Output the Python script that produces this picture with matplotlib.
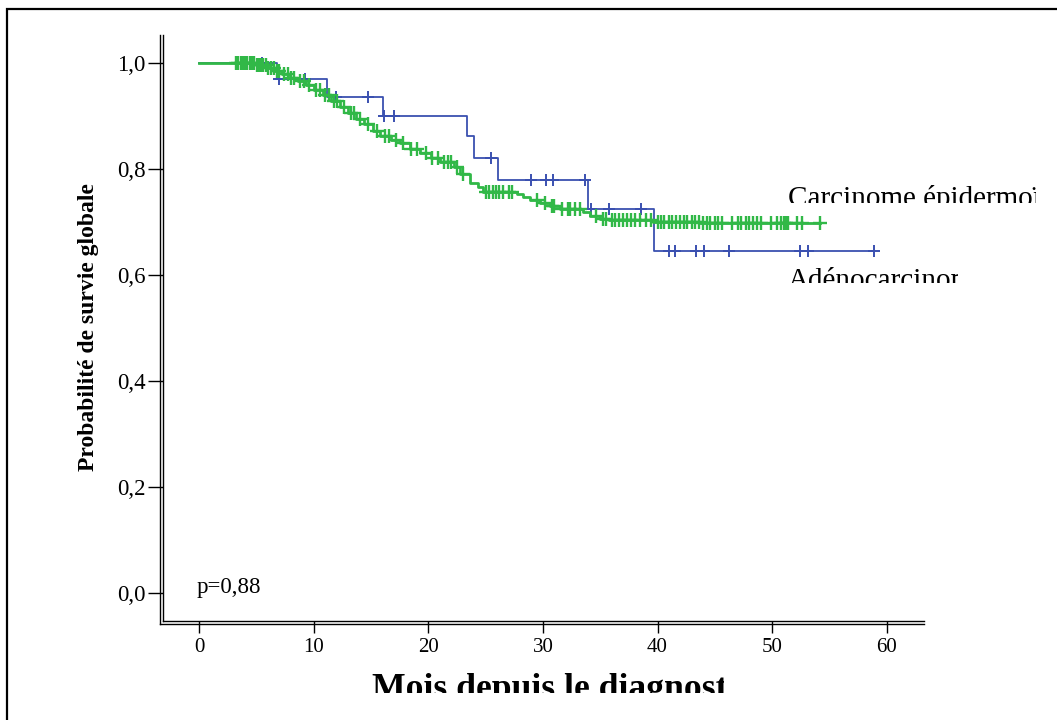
import numpy as np
import matplotlib.pyplot as plt
from matplotlib.lines import Line2D
from matplotlib.patches import Rectangle

# Kaplan-Meier steps (months, survival)
adeno_t = [0, 6.81, 11.17, 16.0, 23.34, 24.0, 26.1, 33.96, 39.7]
adeno_s = [1.0, 0.969, 0.936, 0.900, 0.862, 0.821, 0.779, 0.724, 0.645]
adeno_end = 58.9
adeno_cens = [5.5, 7.0, 9.2, 11.9, 14.7, 16.1, 17.0, 25.5, 29.0, 30.3, 30.9,
              33.7, 34.2, 35.8, 38.6, 41.0, 41.5, 43.4, 44.1, 46.2, 52.4,
              53.1, 58.9]

epid_t = [0, 5.0, 6.0, 6.6, 7.2, 7.9, 8.6, 9.3, 10.0, 10.8, 11.5, 12.3, 13.0,
          13.7, 14.4, 15.2, 15.8, 16.7, 17.5, 18.4, 19.3, 20.2, 21.0, 22.2,
          22.8, 23.6, 24.3, 24.8, 27.7, 28.3, 28.9, 29.7, 30.6, 31.5, 33.5,
          34.1, 35.0, 35.8, 39.6, 43.7]
epid_s = [1.0, 0.995, 0.990, 0.985, 0.978, 0.972, 0.965, 0.958, 0.949, 0.939,
          0.928, 0.917, 0.905, 0.893, 0.884, 0.872, 0.862, 0.855, 0.848,
          0.838, 0.829, 0.821, 0.813, 0.804, 0.790, 0.774, 0.765, 0.757,
          0.752, 0.746, 0.741, 0.735, 0.729, 0.724, 0.719, 0.711, 0.706,
          0.703, 0.700, 0.697]
epid_end = 54.2
epid_cens = [3.2, 3.4, 3.6, 3.8, 4.0, 4.2, 4.4, 4.6, 4.8, 5.0, 5.2, 5.4, 5.6,
             5.8, 6.0, 6.3, 6.5, 6.8, 7.0, 7.4, 7.7, 8.0, 8.3, 8.8, 9.1, 9.6,
             10.2, 10.5, 11.0, 11.3, 11.8, 12.0, 12.6, 13.2, 13.5, 14.0, 14.7,
             15.5, 16.2, 16.6, 17.2, 17.8, 18.5, 19.0, 19.8, 20.3, 20.8, 21.4,
             21.7, 22.0, 22.5, 23.0, 25.0, 25.3, 25.6, 25.9, 26.2, 26.5, 27.0,
             27.3, 29.5, 30.2, 30.8, 31.0, 31.7, 32.2, 32.4, 32.8, 33.2, 34.6,
             35.2, 35.5, 36.0, 36.3, 36.6, 37.0, 37.3, 37.7, 38.0, 38.5, 39.0,
             39.4, 40.0, 40.3, 40.6, 41.0, 41.3, 41.6, 42.0, 42.3, 42.6, 43.0,
             43.3, 43.6, 44.0, 44.3, 44.6, 45.0, 45.3, 45.6, 46.5, 47.0, 47.3,
             47.7, 48.0, 48.3, 48.7, 49.0, 49.9, 50.4, 50.8, 51.0, 51.2, 51.4,
             52.2, 52.6, 54.2]

xticks = [0, 10, 20, 30, 40, 50, 60]
yticks = [0.0, 0.2, 0.4, 0.6, 0.8, 1.0]

blue = '#3a50b0'
green = '#31b847'
serif = ['Liberation Serif', 'DejaVu Serif']


def km_line(t, s, end):
    return list(t) + [end], list(s) + [s[-1]]


def km_at(t, s, times):
    idx = np.searchsorted(np.array(t), np.array(times), side='right') - 1
    return np.array(s)[idx]


W, H = 1057, 720
fig = plt.figure(figsize=(W / 100, H / 100), dpi=100)
ax = fig.add_axes([162.5 / W, 1 - 621 / H, 761.8 / W, 586 / H])
ax.set_xlim(-3.212, 63.29)
ax.set_ylim(-0.0522, 1.0522)

# outer frame (only top and left edges are visible)
fig.patches.append(Rectangle((7 / W, -0.2), 1.2, 1 - 9 / H + 0.2,
                             transform=fig.transFigure, fill=False,
                             lw=1.6, ec='black'))

x, y = km_line(adeno_t, adeno_s, adeno_end)
ax.step(x, y, where='post', color=blue, lw=1.3, zorder=2)
ax.plot(adeno_cens, km_at(adeno_t, adeno_s, adeno_cens), ls='none',
        marker='+', ms=8, mew=1.4, color=blue, zorder=2)

x, y = km_line(epid_t, epid_s, epid_end)
ax.step(x, y, where='post', color=green, lw=2.0, zorder=3)
ax.plot(epid_cens, km_at(epid_t, epid_s, epid_cens), ls='none',
        marker='+', ms=10, mew=1.7, color=green, zorder=3)

# double axis lines
for sp in ['top', 'right']:
    ax.spines[sp].set_visible(False)
for sp in ['left', 'bottom']:
    ax.spines[sp].set_linewidth(1.0)
dx = 3 / 761.8
dy = 3 / 586
ax.add_line(Line2D([-dx, -dx], [-dy, 1], transform=ax.transAxes, color='black',
                   lw=1.0, clip_on=False))
ax.add_line(Line2D([-dx, 1], [-dy, -dy], transform=ax.transAxes, color='black',
                   lw=1.0, clip_on=False))

ax.set_xticks(xticks)
ax.set_xticklabels([str(v) for v in xticks], family=serif, fontsize=15)
ax.set_yticks(yticks)
ax.set_yticklabels([('%.1f' % v).replace('.', ',') for v in yticks],
                   family=serif, fontsize=16.5)
ax.tick_params(axis='x', length=8.6, width=1.0, pad=4)
ax.tick_params(axis='y', length=11, width=1.0, pad=1)

ax.text(-0.25, 0.0, 'p=0,88', family=serif, fontsize=16.5, va='baseline')

fig.text(89 / W, 1 - 327 / H, 'Probabilité de survie globale', family=serif,
         fontsize=17, fontweight='bold', rotation=90, ha='center',
         va='center')


def clipped_text(px, py, s, clip_right, clip_bottom, **kw):
    t = fig.text(px / W, 1 - py / H, s, va='baseline', ha='left', **kw)
    box = Rectangle((0, 1 - clip_bottom / H), clip_right / W, clip_bottom / H,
                    transform=fig.transFigure)
    t.set_clip_path(box)
    return t


clipped_text(788, 206, 'Carcinome épidermoïde', 1036, 203, family=serif,
             fontsize=21)
clipped_text(788, 288, 'Adénocarcinome', 958, 283, family=serif, fontsize=21)
clipped_text(372, 698, 'Mois depuis le diagnostic', 724, 693, family=serif,
             fontsize=25.7, fontweight='bold')

fig.savefig('out.png', dpi=100)
